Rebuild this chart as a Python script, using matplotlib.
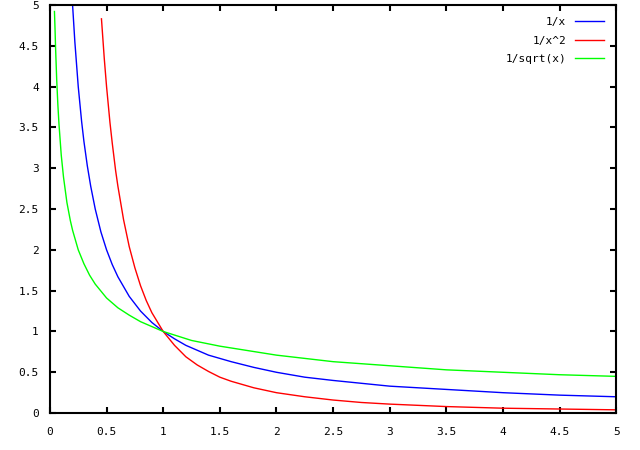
import matplotlib
matplotlib.use("Agg")
import matplotlib.pyplot as plt

# values
inv_x = [0.20, 0.22, 0.25, 0.28, 0.30, 0.33, 0.36, 0.40, 0.45, 0.50, 0.55, 0.60,
         0.70, 0.80, 0.90, 1.00, 1.10, 1.20, 1.40, 1.60, 1.80, 2.00, 2.25, 2.50,
         3.00, 3.50, 4.00, 4.50, 5.00]
inv_y = [5.00, 4.55, 4.00, 3.57, 3.33, 3.03, 2.78, 2.50, 2.22, 2.00, 1.82, 1.67,
         1.43, 1.25, 1.11, 1.00, 0.91, 0.83, 0.71, 0.63, 0.56, 0.50, 0.44, 0.40,
         0.33, 0.29, 0.25, 0.22, 0.20]

sq_x = [0.455, 0.48, 0.50, 0.53, 0.55, 0.58, 0.60, 0.65, 0.70, 0.75, 0.80, 0.85,
        0.90, 1.00, 1.10, 1.20, 1.30, 1.40, 1.50, 1.60, 1.80, 2.00, 2.25, 2.50,
        2.75, 3.00, 3.50, 4.00, 4.50, 5.00]
sq_y = [4.83, 4.34, 4.00, 3.56, 3.31, 2.97, 2.78, 2.37, 2.04, 1.78, 1.56, 1.38,
        1.23, 1.00, 0.83, 0.69, 0.59, 0.51, 0.44, 0.39, 0.31, 0.25, 0.20, 0.16,
        0.13, 0.11, 0.08, 0.06, 0.05, 0.04]

rt_x = [0.04, 0.045, 0.05, 0.06, 0.07, 0.08, 0.10, 0.12, 0.15, 0.18, 0.20, 0.25,
        0.30, 0.35, 0.40, 0.50, 0.60, 0.70, 0.80, 1.00, 1.25, 1.50, 2.00, 2.50,
        3.00, 3.50, 4.00, 4.50, 5.00]
rt_y = [4.92, 4.71, 4.47, 4.08, 3.78, 3.54, 3.16, 2.89, 2.58, 2.36, 2.24, 2.00,
        1.83, 1.69, 1.58, 1.41, 1.29, 1.20, 1.12, 1.00, 0.89, 0.82, 0.71, 0.63,
        0.58, 0.53, 0.50, 0.47, 0.45]

xticks = [0, 0.5, 1, 1.5, 2, 2.5, 3, 3.5, 4, 4.5, 5]
yticks = [0, 0.5, 1, 1.5, 2, 2.5, 3, 3.5, 4, 4.5, 5]

plt.rcParams['font.family'] = 'DejaVu Sans Mono'
plt.rcParams['font.size'] = 8

fig = plt.figure(figsize=(6.4, 4.5), dpi=100)
ax = fig.add_axes([0.078, 0.082, 0.885, 0.907])

ax.plot(inv_x, inv_y, color='#0000ff', lw=1, label='1/x')
ax.plot(sq_x, sq_y, color='#ff0000', lw=1, label='1/x^2')
ax.plot(rt_x, rt_y, color='#00ff00', lw=1, label='1/sqrt(x)')

ax.set_xlim(0, 5)
ax.set_ylim(0, 5)
ax.set_xticks(xticks)
ax.set_yticks(yticks)
ax.set_xticklabels([f"{t:g}" for t in xticks])
ax.set_yticklabels([f"{t:g}" for t in yticks])
ax.tick_params(direction='in', length=4, width=1.5, top=True, right=True)
ax.tick_params(axis='x', pad=10)
ax.tick_params(axis='y', pad=8)
for s in ax.spines.values():
    s.set_linewidth(1.5)

ax.legend(loc='upper right', frameon=False, markerfirst=False, handlelength=2.6,
          labelspacing=0.75, borderaxespad=0.7, handletextpad=0.8,
          borderpad=0.4)

fig.savefig('out.png', dpi=100)
